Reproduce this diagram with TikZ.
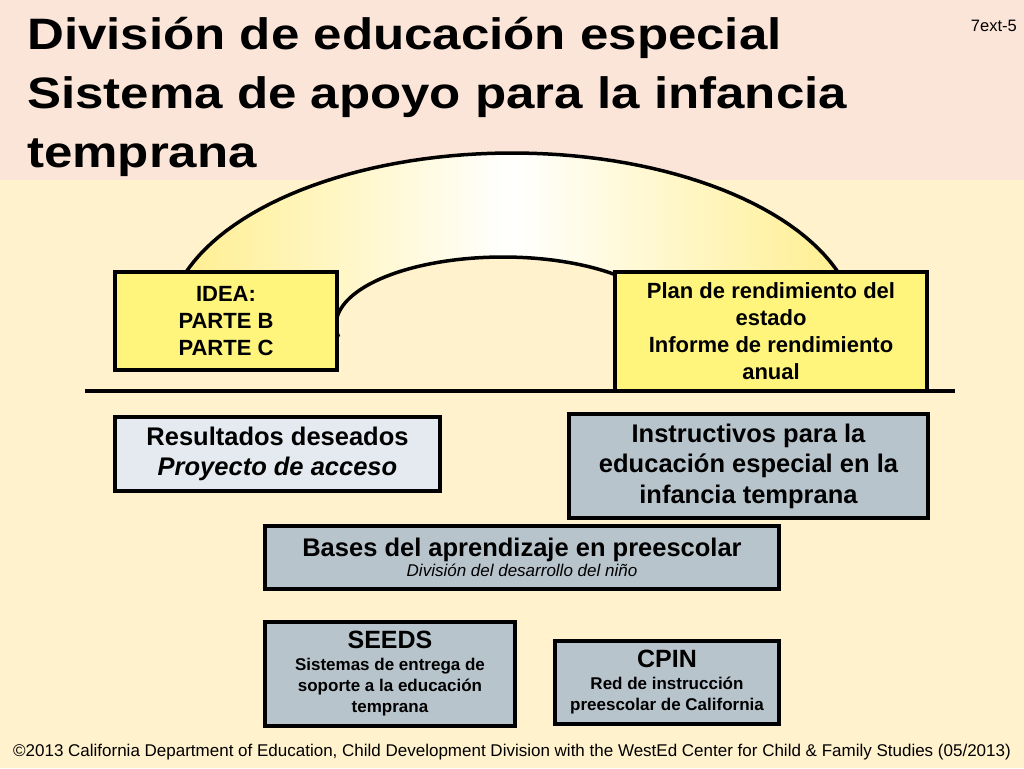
\documentclass[tikz,border=0pt]{standalone}
\usepackage{fontspec}
\setmainfont{Liberation Sans}
\newfontfamily\titlefont[FakeStretch=1.16]{Liberation Sans}
\usepackage{tikz}
\usetikzlibrary{positioning}

\definecolor{headpink}{RGB}{251,229,216}
\definecolor{slidecream}{RGB}{255,242,204}
\definecolor{boxyellow}{RGB}{255,245,125}
\definecolor{boxpale}{RGB}{229,234,240}
\definecolor{boxslate}{RGB}{184,196,204}
\definecolor{archyellow}{RGB}{255,238,140}

\begin{document}
\begin{tikzpicture}[x=1pt,y=-1pt]
	\tikzstyle{box} = [draw, line width=3.5pt, rectangle, align=center, inner sep=2pt, execute at begin node={\rule{0pt}{1em}}]
	\tikzstyle{bigtxt} = [font=\fontsize{25.5}{30.5}\selectfont\bfseries]
	\tikzstyle{midtxt} = [font=\fontsize{22}{27}\selectfont\bfseries]
	\tikzstyle{smalltxt} = [font=\fontsize{17}{21}\selectfont\bfseries]
	
	\useasboundingbox (0,0) rectangle (1024,768);
	\fill [headpink] (0,0) rectangle (1024,180);
	\fill [slidecream] (0,180) rectangle (1024,768);
	
	% arch
	\fill [left color=archyellow, right color=archyellow, middle color=white]
		plot[domain=180:360, samples=80] ({512+345*cos(\x)}, {330+177*sin(\x)})
		-- plot[domain=0:-190, samples=80] ({503+167*cos(\x)}, {325+68*sin(\x)}) -- cycle;
	\draw [line width=3.5pt] plot[domain=180:360, samples=80] ({512+345*cos(\x)}, {330+177*sin(\x)});
	\draw [line width=3.5pt] plot[domain=0:-190, samples=80] ({503+167*cos(\x)}, {325+68*sin(\x)});
	
	\node [anchor=north west, inner sep=0, align=left, font=\titlefont\fontsize{44}{59}\selectfont\bfseries] (title) at (27,17) {Divisi\'on de educaci\'on especial\\Sistema de apoyo para la infancia\\temprana};
	\node [anchor=base east, inner sep=0, font=\fontsize{16.5}{18}\selectfont] (slideno) at (1017,32) {7ext-5};
	
	\coordinate (rulel) at (85,391);
	\coordinate (ruler) at (955,391);
	\draw [line width=4.5pt] (rulel) -- (ruler);
	
	\node [box, midtxt, fill=boxyellow, minimum width=222pt, minimum height=98pt] (idea) at (226,321) {IDEA:\\PARTE B\\PARTE C};
	
	\node [box, midtxt, fill=boxyellow, minimum width=312pt, minimum height=119pt] (plan) at (771,331.5) {Plan de rendimiento del\\estado\\Informe de rendimiento\\anual};
	
	\node [box, bigtxt, fill=boxpale, minimum width=325pt, minimum height=74pt] (result) at (277.5,454) {Resultados deseados\\\textit{Proyecto de acceso}};
	
	\node [box, bigtxt, fill=boxslate, minimum width=359pt, minimum height=104pt] (instr) at (748.5,466) {Instructivos para la\\educaci\'on especial en la\\infancia temprana};
	
	\node [box, fill=boxslate, minimum width=514pt, minimum height=63pt] (bases) at (522,557.5) {{\fontsize{25.5}{26}\selectfont\bfseries Bases del aprendizaje en preescolar}\\[1pt]{\fontsize{17}{19}\selectfont\itshape Divisi\'on del desarrollo del ni\~no}};
	
	\node [box, smalltxt, fill=boxslate, minimum width=250pt, minimum height=104pt] (seeds) at (390,674) {{\fontsize{25}{26}\selectfont SEEDS}\\[1pt]Sistemas de entrega de\\soporte a la educaci\'on\\temprana};
	
	\node [box, smalltxt, fill=boxslate, minimum width=224pt, minimum height=83pt] (cpin) at (667,682.5) {{\fontsize{25}{26}\selectfont CPIN}\\[1pt]Red de instrucci\'on\\preescolar de California};
	
	\node [inner sep=0, font=\fontsize{17}{20}\selectfont] (credit) at (512,752) {\textcopyright2013 California Department of Education, Child Development Division with the WestEd Center for Child \& Family Studies (05/2013)};
\end{tikzpicture}
\end{document}
